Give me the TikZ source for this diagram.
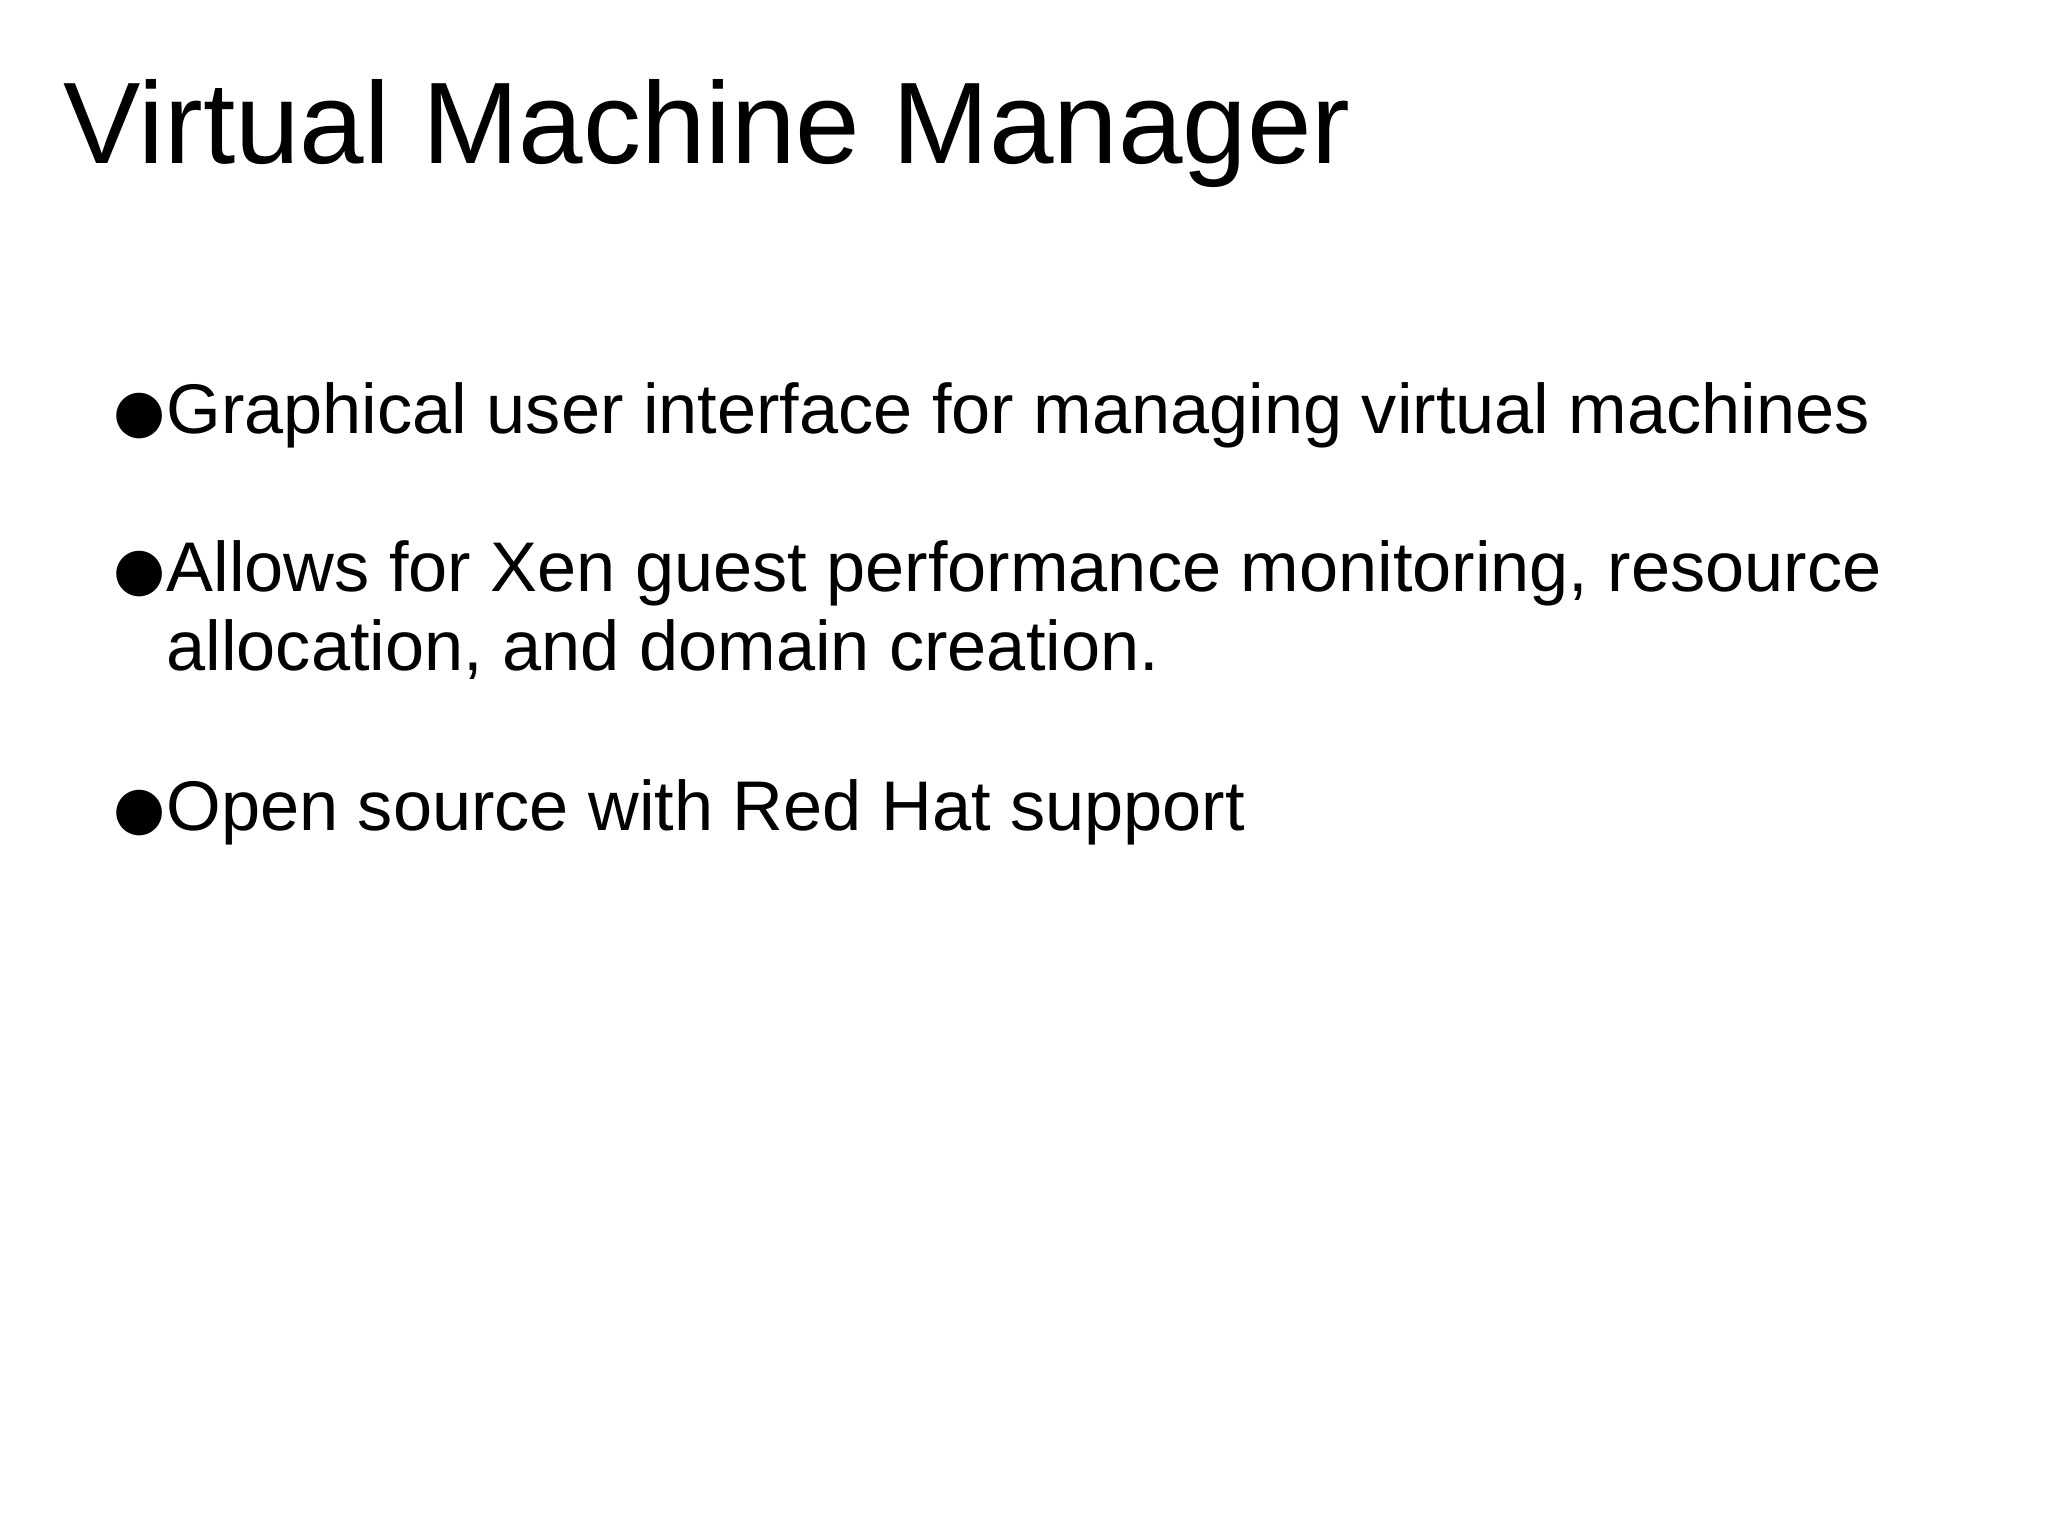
\documentclass[tikz,border=0pt]{standalone}
\usepackage{fontspec}
\setmainfont{Liberation Sans}
\newfontfamily\symfont{DejaVu Sans}
\begin{document}
\begin{tikzpicture}[x=0.013061cm,y=-0.013061cm,
  txt/.style={anchor=base west,inner sep=0pt,font=\fontsize{20}{24}\selectfont},
  bul/.style={anchor=base west,inner sep=0pt,font=\symfont\fontsize{17}{20}\selectfont}]
\useasboundingbox (0,0) rectangle (1568,1176);
\node[anchor=base west,inner sep=0pt,font=\fontsize{33}{40}\selectfont] (title) at (48,125) {Virtual Machine Manager};
\node[bul] (b1) at (86,330) {●};
\node[txt] (t1) at (127,332) {Graphical user interface for managing virtual machines};
\node[bul] (b2) at (86,451) {●};
\node[txt] (t2) at (127,453) {Allows for Xen guest performance monitoring, resource};
\node[txt] (t2b) at (127,513) {allocation, and domain creation.};
\node[bul] (b3) at (86,634) {●};
\node[txt] (t3) at (127,636) {Open source with Red Hat support};
\end{tikzpicture}
\end{document}
